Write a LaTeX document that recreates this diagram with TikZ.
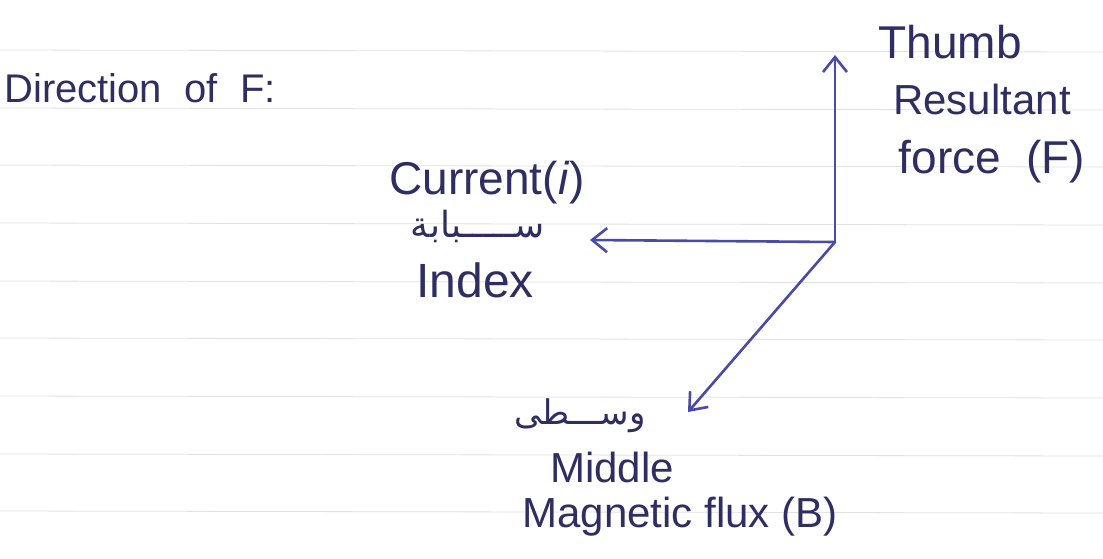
\documentclass[tikz,border=0pt]{standalone}
\usepackage{fontspec}
\setmainfont{Liberation Sans}
\newfontfamily\arabicfont[Script=Arabic]{DejaVu Sans}
\TeXXeTstate=1
\usetikzlibrary{arrows.meta}
\definecolor{ink}{HTML}{2E2E62}
\definecolor{pen}{HTML}{4A4AA8}
\definecolor{rule}{HTML}{E2E2E2}
\tikzset{
  hand/.style={text=ink, inner sep=0pt, font=\fontsize{42}{48}\selectfont},
  arab/.style={text=ink, inner sep=0pt, font=\arabicfont\fontsize{36}{42}\selectfont},
  vec/.style={draw=pen, line width=2.6pt, line cap=round,
    -{Straight Barb[length=15pt, width=24pt, line width=2.6pt]}},
  ruled/.style={draw=rule, line width=0.8pt}
}
\begin{document}
\begin{tikzpicture}[x=1pt,y=-1pt]
\useasboundingbox[fill=white] (0,0) rectangle (1103,558);
% ruled paper lines
\foreach \yy in {50,108,165,223,281,338,396,454,511}
  \draw[ruled] (0,\yy) -- (1103,\yy+2);
% texts
\node[hand, font=\fontsize{40}{46}\selectfont] (title) at (140,88) {Direction\ \ of\ \ F:};
\node[hand, font=\fontsize{46}{52}\selectfont] (thumb) at (950,42) {Thumb};
\node[hand] (result) at (982,99) {Resultant};
\node[hand, font=\fontsize{46}{52}\selectfont] (force) at (992,162) {force\ \ (F)};
\node[hand, font=\fontsize{46}{52}\selectfont] (curr) at (487,183) {Current(\textit{i})};
\node[arab] (sabbaba) at (478,226) {\beginR ســـــبابة\endR};
\node[hand, font=\fontsize{48}{54}\selectfont] (index) at (475,280) {Index};
\node[arab, font=\arabicfont\fontsize{34}{40}\selectfont] (wusta) at (580,416) {\beginR وســـطى\endR};
\node[hand] (middle) at (612,467) {Middle};
\node[hand] (flux) at (680,517) {Magnetic flux (B)};
% vectors
\coordinate (O) at (835,242);
\coordinate (Ftip) at (835,55);
\coordinate (Itip) at (590,240);
\coordinate (Btip) at (688,412);
\draw[vec] (O) -- (Ftip);
\draw[vec] (O) -- (Itip);
\draw[vec] (O) -- (Btip);
\end{tikzpicture}
\end{document}
